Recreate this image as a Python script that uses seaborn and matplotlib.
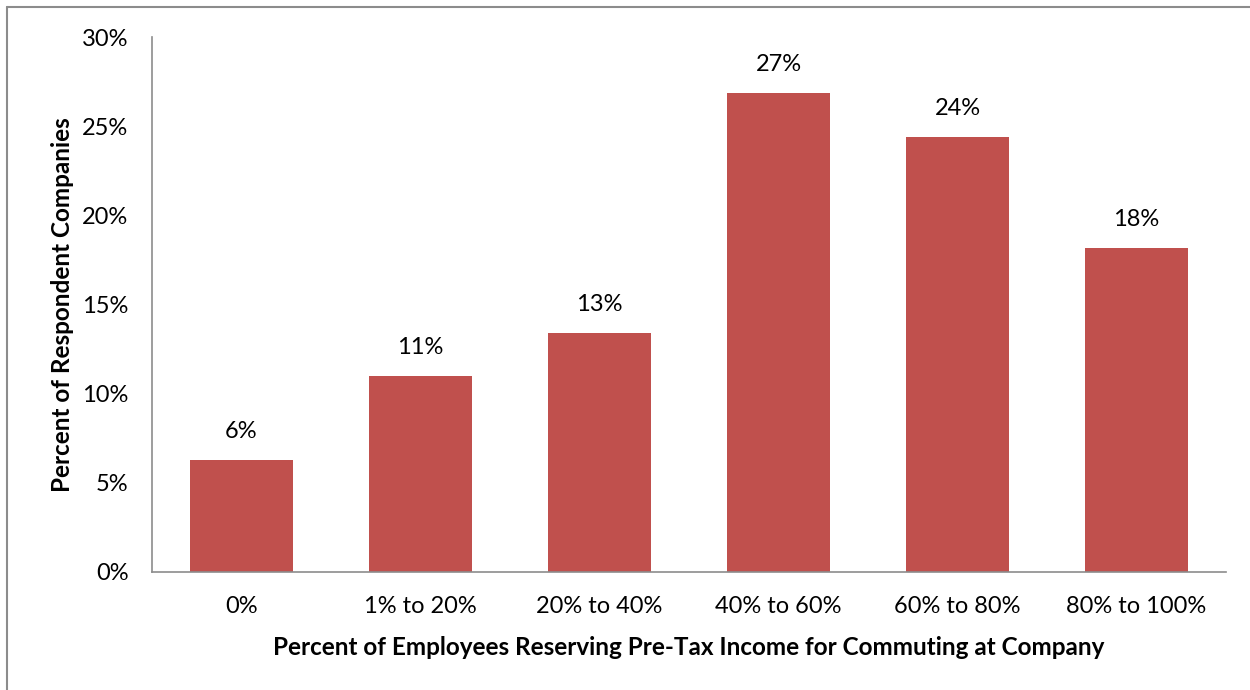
import matplotlib
matplotlib.use("Agg")
import matplotlib.pyplot as plt
from matplotlib.lines import Line2D
from matplotlib.ticker import FuncFormatter, MultipleLocator
import seaborn as sns
import pandas as pd

# Share of companies by the percent of employees using pre-tax commuting income
categories = ["0%", "1% to 20%", "20% to 40%", "40% to 60%", "60% to 80%", "80% to 100%"]
shares = [6.3, 11.0, 13.4, 26.85, 24.4, 18.15]
x_title = "Percent of Employees Reserving Pre-Tax Income for Commuting at Company"
y_title = "Percent of Respondent Companies"

df = pd.DataFrame({"category": categories, "share": shares})

sns.set_theme(style="white")
plt.rcParams["font.family"] = ["Lato", "DejaVu Sans"]

fig = plt.figure(figsize=(12.5, 6.9), dpi=100)
ax = fig.add_axes([152 / 1250, 1 - 572 / 690, (1226 - 152) / 1250, (572 - 37) / 690])

sns.barplot(data=df, x="category", y="share", color="#C0504D", saturation=1,
            width=0.57, ax=ax, edgecolor="none")

ax.set_xlim(-0.5, len(categories) - 0.5)
ax.set_ylim(0, 30)
ax.yaxis.set_major_locator(MultipleLocator(5))
ax.yaxis.set_major_formatter(FuncFormatter(lambda v, _: f"{v:.0f}%"))

for i, v in enumerate(shares):
    ax.text(i, v + 1.0, f"{v:.0f}%", ha="center", va="bottom", fontsize=17, color="black")

ax.tick_params(axis="both", length=0, labelsize=17, colors="black")
ax.tick_params(axis="x", pad=17)
ax.tick_params(axis="y", pad=17)

for side in ("top", "right"):
    ax.spines[side].set_visible(False)
for side in ("left", "bottom"):
    ax.spines[side].set_color("#8c8c8c")
    ax.spines[side].set_linewidth(1.2)

ax.set_xlabel(x_title, fontsize=17.5, fontweight="bold", labelpad=14, color="black")
ax.set_ylabel(y_title, fontsize=17.5, fontweight="bold", labelpad=6, color="black")

# Chart-area frame (top and left edges)
fig.add_artist(Line2D([6.5 / 1250, 6.5 / 1250], [0, 1 - 6.5 / 690], transform=fig.transFigure,
                      color="#8c8c8c", linewidth=1.5))
fig.add_artist(Line2D([6.5 / 1250, 1], [1 - 6.5 / 690, 1 - 6.5 / 690], transform=fig.transFigure,
                      color="#8c8c8c", linewidth=1.5))

fig.savefig("out.png", dpi=100, facecolor="white")
